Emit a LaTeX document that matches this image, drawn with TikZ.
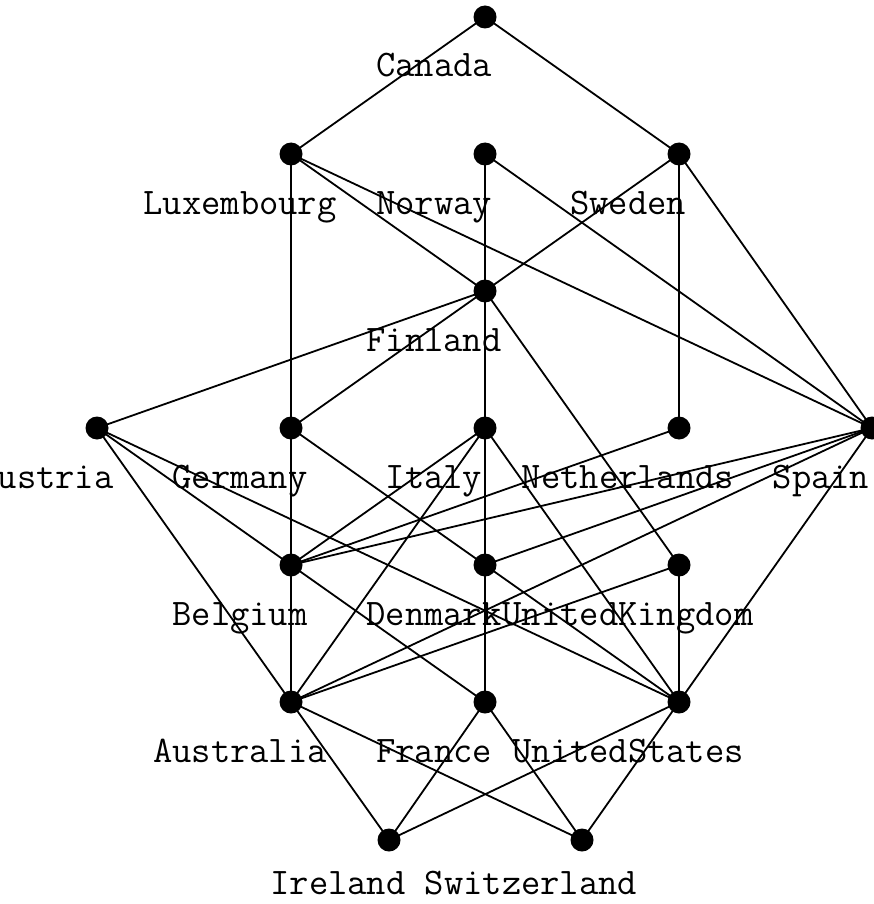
\documentclass[tikz,border=0pt]{standalone}
\pgfdeclarelayer{bg}
\pgfsetlayers{bg,main}
\begin{document}
\begin{tikzpicture}[x=1pt,y=-1pt,
  dot/.style={circle,fill=black,inner sep=0pt,minimum size=23pt},
  lab/.style={anchor=base,inner sep=0pt,font=\ttfamily\fontsize{37.5}{40}\selectfont},
  edge/.style={line width=1.8pt}]
\useasboundingbox (0,0) rectangle (874,904);
\node[dot] (ca) at (485,17) {};
\node[dot] (lu) at (291,154) {};
\node[dot] (no) at (485,154) {};
\node[dot] (sw) at (679,154) {};
\node[dot] (fi) at (485,291) {};
\node[dot] (at) at (97,428) {};
\node[dot] (ge) at (291,428) {};
\node[dot] (it) at (485,428) {};
\node[dot] (ne) at (679,428) {};
\node[dot] (sp) at (872,428) {};
\node[dot] (be) at (291,565) {};
\node[dot] (de) at (485,565) {};
\node[dot] (uk) at (679,565) {};
\node[dot] (au) at (291,702) {};
\node[dot] (fr) at (485,702) {};
\node[dot] (us) at (679,702) {};
\node[dot] (ir) at (389,840) {};
\node[dot] (sz) at (582,840) {};
\node[lab] (caL) at (434,77) {Canada};
\node[lab] (luL) at (240,214) {Luxembourg};
\node[lab] (noL) at (434,214) {Norway};
\node[lab] (swL) at (628,214) {Sweden};
\node[lab] (fiL) at (434,351) {Finland};
\node[lab] (atL) at (46,488) {Austria};
\node[lab] (geL) at (240,488) {Germany};
\node[lab] (itL) at (434,488) {Italy};
\node[lab] (neL) at (628,488) {Netherlands};
\node[lab] (spL) at (821,488) {Spain};
\node[lab] (beL) at (240,625) {Belgium};
\node[lab] (deL) at (434,625) {Denmark};
\node[lab] (ukL) at (628,625) {UnitedKingdom};
\node[lab] (auL) at (240,762) {Australia};
\node[lab] (frL) at (434,762) {France};
\node[lab] (usL) at (628,762) {UnitedStates};
\node[lab] (irL) at (338,894) {Ireland};
\node[lab] (szL) at (531,894) {Switzerland};
\begin{pgfonlayer}{bg}
\foreach \a/\b in {ca/lu,ca/sw,lu/ge,lu/fi,lu/sp,no/fi,no/sp,sw/fi,sw/ne,sw/sp,
  fi/ge,fi/at,fi/it,fi/uk,at/be,at/au,at/us,ge/be,ge/de,de/us,
  it/be,it/au,it/de,it/us,ne/be,sp/be,sp/de,sp/au,sp/us,
  be/au,be/fr,de/fr,uk/au,uk/us,au/ir,au/sz,fr/ir,fr/sz,us/ir,us/sz}
  \draw[edge] (\a.center) -- (\b.center);
\end{pgfonlayer}
\end{tikzpicture}
\end{document}
